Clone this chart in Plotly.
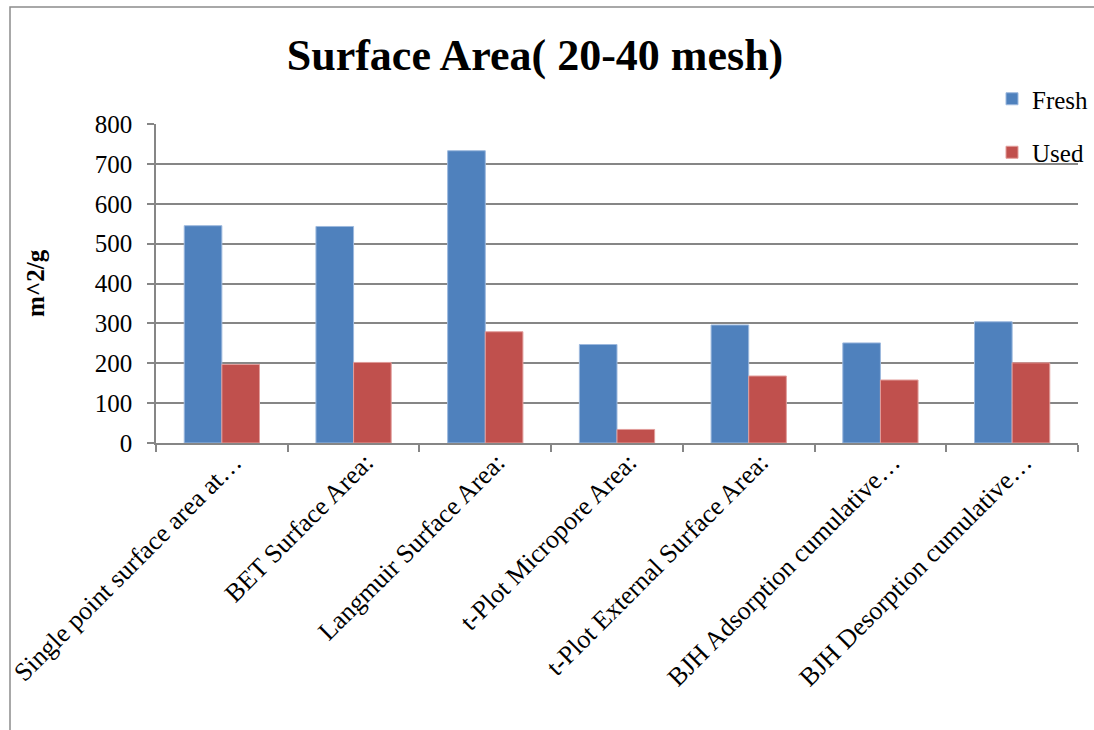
import plotly.graph_objects as go

categories = [
    "Single point surface area at…",
    "BET Surface Area:",
    "Langmuir Surface Area:",
    "t-Plot Micropore Area:",
    "t-Plot External Surface Area:",
    "BJH Adsorption cumulative…",
    "BJH Desorption cumulative…",
]
fresh = [545, 543, 733, 247, 296, 251, 304]
used = [197, 202, 279, 34, 168, 158, 201]
y_ticks = [0, 100, 200, 300, 400, 500, 600, 700, 800]

W, H = 1094, 730
L, R, T, B = 156, 16, 124, 287
pw, ph = W - L - R, H - T - B

def px_x(x):
    return (x - L) / pw

def px_y(y):
    return (H - B - y) / ph

serif = "Liberation Serif, Times New Roman, serif"
grid = "#868686"

fig = go.Figure()
fig.add_trace(go.Bar(
    name="Fresh", x=categories, y=fresh, legendgroup="a",
    marker=dict(color="#4F81BD", line=dict(color="#9DB9DE", width=1)),
))
fig.add_trace(go.Bar(
    name="Used", x=categories, y=used, legendgroup="b",
    marker=dict(color="#C0504D", line=dict(color="#E29D9B", width=1)),
))

fig.update_layout(
    width=W, height=H,
    margin=dict(l=L, r=R, t=T, b=B, autoexpand=False),
    paper_bgcolor="white", plot_bgcolor="white",
    barmode="group", bargap=1.5 / 3.5, bargroupgap=0,
    font=dict(family=serif, size=25, color="black"),
    title=dict(
        text="<b>Surface Area( 20-40 mesh)</b>",
        font=dict(family=serif, size=44, color="black"),
        x=535 / W, xanchor="center", xref="container",
        y=1 - 55 / H, yanchor="middle", yref="container",
    ),
    legend=dict(
        x=px_x(992), y=px_y(76), xanchor="left", yanchor="top",
        bgcolor="rgba(0,0,0,0)", tracegroupgap=18,
        font=dict(family=serif, size=25, color="black"),
        traceorder="grouped",
    ),
    showlegend=True,
)

fig.update_xaxes(
    type="category", tickson="boundaries", ticks="outside", ticklen=7,
    tickcolor=grid, tickwidth=1.6, showline=True, linecolor=grid, linewidth=1.6,
    tickangle=-45, showgrid=False, tickfont=dict(family=serif, size=26),
    ticklabelstandoff=-8, ticklabelshift=12,
)
fig.update_yaxes(
    range=[0, 800], tickvals=y_ticks, ticks="outside", ticklen=7,
    tickcolor=grid, tickwidth=1.6, showline=True, linecolor=grid, linewidth=1.6,
    showgrid=True, gridcolor=grid, gridwidth=1.6, zeroline=False,
    tickfont=dict(family=serif, size=25), ticklabelstandoff=10,
)

# y-axis title
fig.add_annotation(
    text="<b>m^2/g</b>", textangle=-90, showarrow=False,
    xref="paper", yref="paper", x=px_x(35), y=px_y(283),
    xanchor="center", yanchor="middle",
    font=dict(family=serif, size=25, color="black"),
)

# chart frame
fig.add_shape(
    type="rect", xref="paper", yref="paper", layer="below",
    x0=px_x(10), x1=px_x(1110), y0=px_y(740), y1=px_y(7),
    line=dict(color="#8C8C8C", width=1.5), fillcolor="rgba(0,0,0,0)",
)

fig.write_html("out.html")
